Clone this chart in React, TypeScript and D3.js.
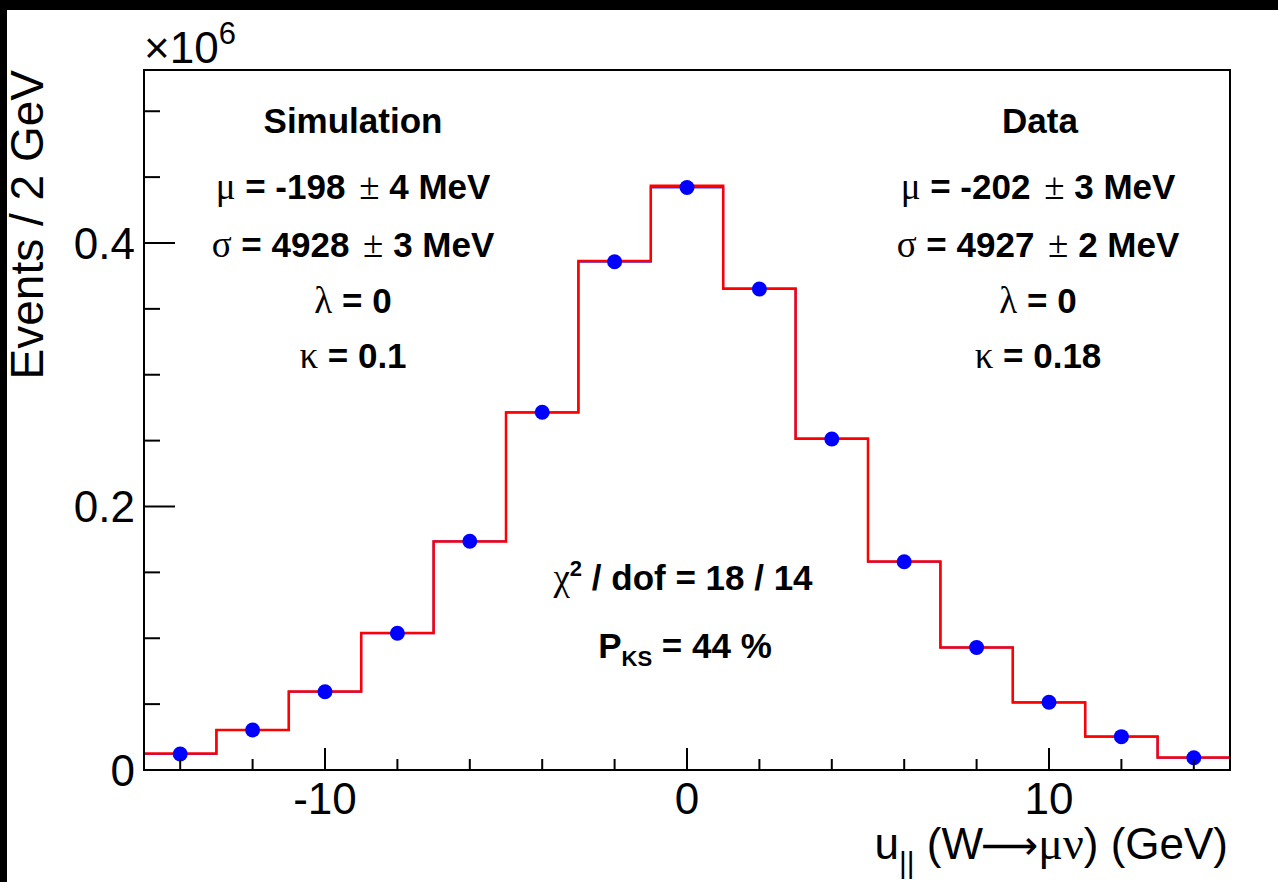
import React from "react";
import * as d3 from "d3";

const binCenters = [-14, -12, -10, -8, -6, -4, -2, 0, 2, 4, 6, 8, 10, 12, 14];
const dataValues = [0.0121, 0.0304, 0.0594, 0.1038, 0.1736, 0.2715, 0.3858, 0.4421, 0.3651, 0.2512, 0.1581, 0.093, 0.0514, 0.0253, 0.0093];
const simValues = [0.0125, 0.0304, 0.0596, 0.104, 0.1734, 0.2713, 0.3863, 0.4435, 0.3655, 0.2516, 0.1583, 0.093, 0.0512, 0.0254, 0.0095];
const xMajorTicks = [-10, 0, 10];
const xMinorTicks = [-14, -12, -8, -6, -4, -2, 2, 4, 6, 8, 12, 14];
const yMajorTicks = [0, 0.2, 0.4];
const yMinorTicks = [0.05, 0.1, 0.15, 0.25, 0.3, 0.35, 0.45, 0.5];
const yTickLabels = ["0", "0.2", "0.4"];
const xTickLabels = ["-10", "0", "10"];
const binWidth = 2;
const xDomain = [-15, 15];
const yDomain = [0, 0.5313];

const simLines = [
  { g: "μ", t: " = -198 ", pm: "±", r: " 4 MeV" },
  { g: "σ", t: " = 4928 ", pm: "±", r: " 3 MeV" },
  { g: "λ", t: " = 0", pm: "", r: "" },
  { g: "κ", t: " = 0.1", pm: "", r: "" },
];
const dataLines = [
  { g: "μ", t: " = -202 ", pm: "±", r: " 3 MeV" },
  { g: "σ", t: " = 4927 ", pm: "±", r: " 2 MeV" },
  { g: "λ", t: " = 0", pm: "", r: "" },
  { g: "κ", t: " = 0.18", pm: "", r: "" },
];

const SANS = "'Liberation Sans', Arial, Helvetica, sans-serif";
const SERIF = "'Liberation Serif', 'Times New Roman', serif";

export default function App() {
  const W = 1278, H = 882;
  const left = 144, right = 1230, top = 70, bottom = 770;
  const x = d3.scaleLinear().domain(xDomain).range([left, right]);
  const y = d3.scaleLinear().domain(yDomain).range([bottom, top]);

  const stepPts = (vals: number[]) => {
    const pts: [number, number][] = vals.map((v, i) => [binCenters[i] - binWidth / 2, v]);
    pts.push([binCenters[binCenters.length - 1] + binWidth / 2, vals[vals.length - 1]]);
    return pts;
  };
  const line = d3.line<[number, number]>().x((d) => x(d[0])).y((d) => y(d[1])).curve(d3.curveStepAfter);

  const rowY = [199, 257, 313, 368];
  const fs = 35;
  const gfs = 37;

  const renderLine = (l: any, cx: number, yy: number, key: string) => (
    <text key={key} x={cx} y={yy} textAnchor="middle" fontSize={fs} fontFamily={SANS} fontWeight="bold" style={{ whiteSpace: "pre" }}>
      <tspan fontFamily={SERIF} fontWeight="normal" fontSize={gfs}>{l.g}</tspan>
      <tspan>{l.t}</tspan>
      {l.pm && <tspan fontFamily={SERIF} fontWeight="normal" fontSize={gfs} dx={4}>{l.pm}</tspan>}
      {l.r && <tspan>{l.r}</tspan>}
    </text>
  );

  return (
    <div style={{ position: "fixed", left: 0, top: 0, width: W, height: H, background: "#fff" }}>
      <svg width={W} height={H} style={{ display: "block" }}>
        <rect x={0} y={0} width={W} height={H} fill="#fff" />
        <rect x={0} y={0} width={W} height={10} fill="#000" />
        <rect x={0} y={0} width={7} height={H} fill="#000" />

        {/* histograms */}
        <path d={line(stepPts(dataValues)) || ""} fill="none" stroke="#3030ff" strokeWidth={2} />
        <path d={line(stepPts(simValues)) || ""} fill="none" stroke="#ff0000" strokeWidth={2.5} />
        {binCenters.map((c, i) => (
          <circle key={i} cx={x(c)} cy={y(dataValues[i])} r={7.5} fill="#0000ff" />
        ))}

        {/* frame */}
        <rect x={left} y={top} width={right - left} height={bottom - top} fill="none" stroke="#000" strokeWidth={2} />

        {/* y ticks */}
        {yMajorTicks.map((t) => (
          <line key={"ym" + t} x1={left} x2={left + 31} y1={y(t)} y2={y(t)} stroke="#000" strokeWidth={2} />
        ))}
        {yMinorTicks.map((t) => (
          <line key={"yn" + t} x1={left} x2={left + 16} y1={y(t)} y2={y(t)} stroke="#000" strokeWidth={2} />
        ))}
        {yMajorTicks.map((t, i) => (
          <text key={"yl" + t} x={135} y={y(t)} dy="0.36em" textAnchor="end" fontSize={44} fontFamily={SANS}>{yTickLabels[i]}</text>
        ))}

        {/* x ticks */}
        {xMajorTicks.map((t) => (
          <line key={"xm" + t} x1={x(t)} x2={x(t)} y1={bottom} y2={bottom - 22} stroke="#000" strokeWidth={2} />
        ))}
        {xMinorTicks.map((t) => (
          <line key={"xn" + t} x1={x(t)} x2={x(t)} y1={bottom} y2={bottom - 11} stroke="#000" strokeWidth={2} />
        ))}
        {xMajorTicks.map((t, i) => (
          <text key={"xl" + t} x={x(t)} y={814} textAnchor="middle" fontSize={44} fontFamily={SANS}>{xTickLabels[i]}</text>
        ))}

        {/* exponent */}
        <text x={144} y={63} fontSize={44} fontFamily={SANS}>
          ×10<tspan fontSize={31} dy={-19}>6</tspan>
        </text>

        {/* axis titles */}
        <text transform="translate(43,70) rotate(-90)" textAnchor="end" fontSize={46} fontFamily={SANS}>Events / 2 GeV</text>
        <text x={1228} y={859} textAnchor="end" fontSize={44} fontFamily={SANS} style={{ whiteSpace: "pre" }}>
          u<tspan fontSize={30} dy={14}>||</tspan><tspan dy={-14}> (W</tspan><tspan fontFamily="'DejaVu Sans', sans-serif" fontSize={40} dx={-2}>⟶</tspan><tspan fontFamily={SERIF} fontSize={46}>μν</tspan><tspan>) (GeV)</tspan>
        </text>

        {/* text blocks */}
        <text x={353} y={133} textAnchor="middle" fontSize={fs} fontFamily={SANS} fontWeight="bold">Simulation</text>
        {simLines.map((l, i) => renderLine(l, 353, rowY[i], "s" + i))}
        <text x={1040} y={133} textAnchor="middle" fontSize={fs} fontFamily={SANS} fontWeight="bold">Data</text>
        {dataLines.map((l, i) => renderLine(l, 1038, rowY[i], "d" + i))}

        <text x={683} y={590} textAnchor="middle" fontSize={fs} fontFamily={SANS} fontWeight="bold" style={{ whiteSpace: "pre" }}>
          <tspan fontFamily={SERIF} fontWeight="normal" fontSize={gfs}>χ</tspan><tspan fontSize={22} dy={-14}>2</tspan><tspan dy={14}> / dof = 18 / 14</tspan>
        </text>
        <text x={685} y={658} textAnchor="middle" fontSize={fs} fontFamily={SANS} fontWeight="bold" style={{ whiteSpace: "pre" }}>
          P<tspan fontSize={22} dy={8}>KS</tspan><tspan dy={-8}> = 44 %</tspan>
        </text>
      </svg>
    </div>
  );
}
